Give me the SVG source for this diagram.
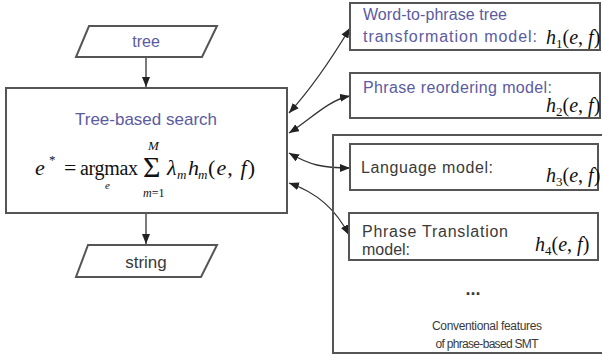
<svg xmlns="http://www.w3.org/2000/svg" width="602" height="358" viewBox="0 0 602 358">
<defs>
<style>
.box{fill:#fff;stroke:#555;stroke-width:2}
.cn{fill:none;stroke:#333;stroke-width:1.3}
.sans{font-family:"Liberation Sans",Arial,sans-serif}
.blue{fill:#5b5ba0}
.gray{fill:#3a3a3a}
.math{font-family:"Liberation Serif","Times New Roman",serif;fill:#111}
.it{font-style:italic}
</style>
<marker id="ah" viewBox="0 0 10 8" refX="10" refY="4" markerWidth="10" markerHeight="8" markerUnits="userSpaceOnUse" orient="auto-start-reverse">
<path d="M0,0 L10,4 L0,8 z" fill="#222"/>
</marker>
<marker id="ar" viewBox="0 0 10 8" refX="10" refY="4" markerWidth="10" markerHeight="8" markerUnits="userSpaceOnUse" orient="auto">
<path d="M0,0 L10,4 L0,8 z" fill="#222"/>
</marker>
</defs>
<rect width="602" height="358" fill="#fff"/>

<g id="connectors">
<path class="cn" d="M146,58 V87" marker-end="url(#ar)"/>
<path class="cn" d="M146,214 V244" marker-end="url(#ar)"/>
<path class="cn" d="M289,113 C310,90 332,58 350,28" marker-start="url(#ah)" marker-end="url(#ah)"/>
<path class="cn" d="M289,133 C310,120 328,100 350,96" marker-start="url(#ah)" marker-end="url(#ah)"/>
<path class="cn" d="M289,153 C310,165 322,168 350,168" marker-start="url(#ah)" marker-end="url(#ah)"/>
<path class="cn" d="M289,183 C318,193 336,210 349,235" marker-start="url(#ah)" marker-end="url(#ah)"/>
</g>

<g id="tree">
<polygon class="box" points="89,26 217,26 202,57 76,57"/>
<text class="sans blue" x="146" y="47" font-size="16" text-anchor="middle">tree</text>
</g>

<g id="search">
<rect class="box" x="6" y="88" width="281" height="125"/>
<text class="sans blue" x="146" y="125" font-size="17" text-anchor="middle">Tree-based search</text>
<text class="math it" x="35" y="175" font-size="22">e</text>
<text class="math" x="49" y="164" font-size="13">*</text>
<text class="math" x="64" y="175" font-size="22">=</text>
<text class="math" x="80" y="175" font-size="20" textLength="58">argmax</text>
<text class="math it" x="105" y="189" font-size="11">e</text>
<text class="math" x="143" y="177" font-size="30">Σ</text>
<text class="math it" x="148" y="150" font-size="13">M</text>
<text class="math" x="143" y="197" font-size="12"><tspan class="it">m</tspan>=1</text>
<text class="math it" x="167" y="175" font-size="22">λ</text>
<text class="math it" x="177" y="179" font-size="13">m</text>
<text class="math it" x="188" y="175" font-size="22">h</text>
<text class="math it" x="198" y="179" font-size="13">m</text>
<text class="math" x="208" y="175" font-size="22" textLength="47">(<tspan class="it">e</tspan>, <tspan class="it">f</tspan>)</text>
</g>

<g id="string">
<polygon class="box" points="88,245 217,245 201,277 76,277"/>
<text class="sans gray" x="146" y="268" font-size="17" text-anchor="middle">string</text>
</g>

<g id="h1">
<rect class="box" x="350" y="3" width="250" height="47"/>
<text class="sans blue" x="363" y="20" font-size="16" textLength="144">Word-to-phrase tree</text>
<text class="sans blue" x="363" y="42" font-size="16" textLength="174">transformation model:</text>
<text class="math" x="546" y="44" font-size="20"><tspan class="it">h</tspan><tspan font-size="13" dy="4">1</tspan><tspan dy="-4">(</tspan><tspan class="it">e</tspan>, <tspan class="it">f</tspan>)</text>
</g>

<g id="h2">
<rect class="box" x="350" y="73" width="250" height="45"/>
<text class="sans blue" x="363" y="93" font-size="16" textLength="189">Phrase reordering model:</text>
<text class="math" x="546" y="112" font-size="20"><tspan class="it">h</tspan><tspan font-size="13" dy="4">2</tspan><tspan dy="-4">(</tspan><tspan class="it">e</tspan>, <tspan class="it">f</tspan>)</text>
</g>

<g id="conventional">
<path d="M602,135 H333 V353 H602" fill="none" stroke="#555" stroke-width="2"/>
<text class="sans gray" x="473" y="295" font-size="18" text-anchor="middle" font-weight="bold">...</text>
<text class="sans gray" x="487" y="330" font-size="12" text-anchor="middle" textLength="110">Conventional features</text>
<text class="sans gray" x="487" y="348" font-size="12" text-anchor="middle" textLength="103">of phrase-based SMT</text>
</g>

<g id="h3">
<rect class="box" x="350" y="144" width="248" height="46"/>
<text class="sans gray" x="361" y="173" font-size="16" textLength="132">Language model:</text>
<text class="math" x="546" y="182" font-size="20"><tspan class="it">h</tspan><tspan font-size="13" dy="4">3</tspan><tspan dy="-4">(</tspan><tspan class="it">e</tspan>, <tspan class="it">f</tspan>)</text>
</g>

<g id="h4">
<rect class="box" x="349" y="213" width="249" height="47"/>
<text class="sans gray" x="362" y="237" font-size="16" textLength="146">Phrase Translation</text>
<text class="sans gray" x="362" y="255" font-size="16">model:</text>
<text class="math" x="535" y="251" font-size="20"><tspan class="it">h</tspan><tspan font-size="13" dy="4">4</tspan><tspan dy="-4">(</tspan><tspan class="it">e</tspan>, <tspan class="it">f</tspan>)</text>
</g>
</svg>
